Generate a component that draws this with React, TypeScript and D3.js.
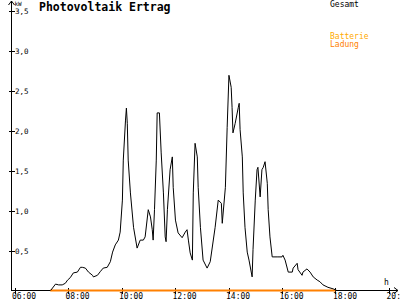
import React from "react";
import * as d3 from "d3";

const times: string[] = ["07:21","07:32","07:39","07:47","07:54","07:59","08:05","08:12","08:21","08:28","08:32","08:39","08:46","08:55","08:57","09:06","09:13","09:19","09:28","09:35","09:40","09:46","09:53","09:57","10:02","10:04","10:09","10:11","10:13","10:15","10:20","10:27","10:35","10:42","10:49","10:53","11:00","11:05","11:09","11:11","11:14","11:18","11:20","11:25","11:29","11:34","11:38","11:40","11:43","11:49","11:54","11:56","12:01","12:07","12:16","12:23","12:27","12:30","12:34","12:39","12:41","12:45","12:50","12:52","12:57","13:03","13:12","13:19","13:30","13:37","13:44","13:46","13:53","13:57","14:01","14:06","14:08","14:10","14:15","14:22","14:24","14:26","14:31","14:33","14:37","14:42","14:46","14:53","14:55","15:00","15:04","15:06","15:11","15:15","15:18","15:22","15:27","15:29","15:33","15:38","15:49","16:00","16:02","16:07","16:14","16:23","16:25","16:34","16:36","16:45","16:47","16:56","17:03","17:10","17:19","17:25","17:32","17:43","17:55","18:03"];
const gesamt: number[] = [0,0.08,0.07,0.07,0.09,0.13,0.16,0.22,0.23,0.29,0.29,0.28,0.23,0.19,0.17,0.19,0.24,0.28,0.29,0.36,0.48,0.57,0.63,0.73,1.13,1.63,2.13,2.28,2.09,1.63,1.22,0.79,0.53,0.63,0.63,0.67,1.01,0.92,0.76,0.63,1.01,1.63,2.22,2.22,1.72,1.22,0.67,0.61,1.01,1.51,1.67,1.29,0.88,0.72,0.66,0.73,0.76,0.63,0.47,0.38,1.22,1.84,1.67,1.29,0.79,0.38,0.28,0.36,0.79,1.13,1.09,0.84,1.29,2.04,2.69,2.54,2.29,1.97,2.09,2.29,2.34,2.01,1.67,1.22,0.79,0.48,0.38,0.17,0.51,1.13,1.51,1.54,1.17,1.51,1.54,1.61,1.34,1.01,0.67,0.42,0.42,0.42,0.44,0.38,0.23,0.23,0.28,0.34,0.26,0.19,0.23,0.27,0.23,0.17,0.13,0.11,0.07,0.04,0.02,0];

const ladungTimes: string[] = ["07:20", "18:00"];
const ladungValues: number[] = [0, 0];

const xTickHours: number[] = [6, 8, 10, 12, 14, 16, 18, 20];
const xTickLabels: string[] = ["06:00", "08:00", "10:00", "12:00", "14:00", "16:00", "18:00", "20:00"];
const yTicks: number[] = [0.5, 1, 1.5, 2, 2.5, 3, 3.5];
const yTickLabels: string[] = ["0,5", "1,0", "1,5", "2,0", "2,5", "3,0", "3,5"];

const title = "Photovoltaik Ertrag";
const legendGesamt = "Gesamt";
const legendBatterie = "Batterie";
const legendLadung = "Ladung";

const toHours = (t: string) => {
  const [h, m] = t.split(":").map(Number);
  return h + m / 60;
};

export default function App() {
  const W = 400, H = 300;
  const x = d3.scaleLinear().domain([6, 20]).range([14.5, 389]);
  const y = d3.scaleLinear().domain([0, 3.5]).range([290.5, 10.5]);
  const axisX = 11.5;
  const axisY = 290.5;

  const line = d3.line<[number, number]>().x(d => x(d[0])).y(d => y(d[1]));
  const gPath = line(times.map((t, i) => [toHours(t), gesamt[i]]))!;
  const lPath = line(ladungTimes.map((t, i) => [toHours(t), ladungValues[i]]))!;

  const font = "'DejaVu Sans Mono', monospace";

  return (
    <svg width={W} height={H} style={{ position: "absolute", left: 0, top: 0, background: "#fff" }}>
      <rect width={W} height={H} fill="#fff" />
      {/* y axis */}
      <line x1={axisX} y1={1} x2={axisX} y2={axisY} stroke="#000" shapeRendering="crispEdges" />
      <path d={`M${axisX - 3},${5} L${axisX},${1} L${axisX + 3},${5}`} fill="none" stroke="#000" />
      {/* x axis */}
      <line x1={axisX} y1={axisY} x2={398} y2={axisY} stroke="#000" shapeRendering="crispEdges" />
      <path d={`M${394},${axisY - 3} L${398},${axisY} L${394},${axisY + 3}`} fill="none" stroke="#000" />
      {yTicks.map((v, i) => (
        <g key={"y" + i}>
          <line x1={axisX - 3} x2={axisX + 3} y1={Math.round(y(v)) + 0.5} y2={Math.round(y(v)) + 0.5} stroke="#000" shapeRendering="crispEdges" />
          <text x={15} y={Math.round(y(v)) + (v === 3.5 ? 3 : 3)} fontFamily={font} fontSize={7.5} fill="#000">{yTickLabels[i]}</text>
        </g>
      ))}
      <text x={14.5} y={5.5} fontFamily={font} fontSize={6} fill="#000">kW</text>
      {xTickHours.map((h, i) => (
        <g key={"x" + i}>
          <line x1={Math.round(x(h)) + 0.5} x2={Math.round(x(h)) + 0.5} y1={axisY - 3} y2={axisY + 3} stroke="#000" shapeRendering="crispEdges" />
          <text x={x(h) - 2.5} y={299} fontFamily={font} fontSize={8} fill="#000">{xTickLabels[i]}</text>
        </g>
      ))}
      <text x={384} y={285} fontFamily={font} fontSize={8} fill="#000">h</text>
      {/* series */}
      <path d={lPath} fill="none" stroke="#ff8000" strokeWidth={2} />
      <path d={gPath} fill="none" stroke="#000" strokeWidth={1} />
      {/* title & legend */}
      <text x={39} y={11} fontFamily={font} fontSize={11.5} fontWeight="bold" fill="#000">{title}</text>
      <text x={330} y={7} fontFamily={font} fontSize={8} fill="#000">{legendGesamt}</text>
      <text x={330} y={39} fontFamily={font} fontSize={8} fill="#ffaa00">{legendBatterie}</text>
      <text x={330} y={46.5} fontFamily={font} fontSize={8} fill="#ff8000">{legendLadung}</text>
    </svg>
  );
}
